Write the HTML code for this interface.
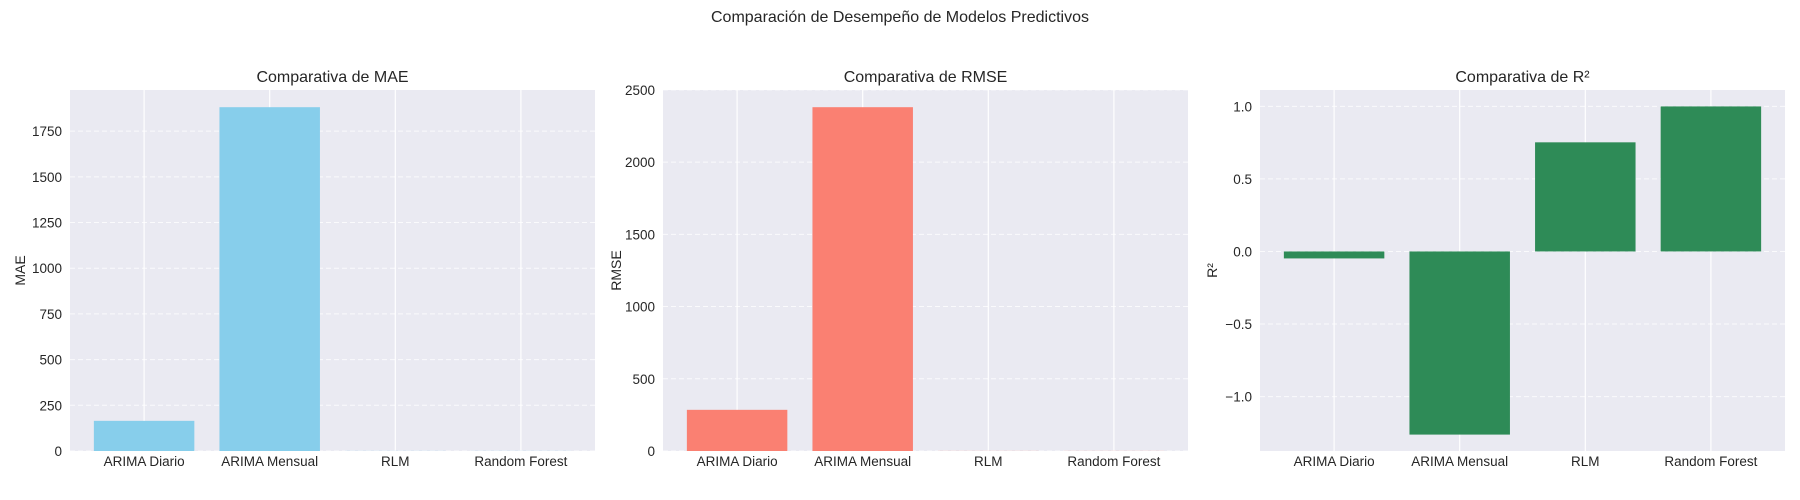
<!DOCTYPE html>
<html><head><meta charset="utf-8"><style>
html,body{margin:0;padding:0;background:#fff;}
svg{display:block;font-family:"Liberation Sans",Arial,sans-serif;}
</style></head><body>
<svg id="fig" width="1800" height="500" viewBox="0 0 1800 500">
<text x="900" y="22" text-anchor="middle" font-size="16" fill="#262626">Comparación de Desempeño de Modelos Predictivos</text>
</svg>
<script>
const categories = ["ARIMA Diario", "ARIMA Mensual", "RLM", "Random Forest"];
const maeValues = [165, 1881, 0.5, 0.5];
const rmseValues = [285, 2380, 0.6, 0.6];
const r2Values = [-0.048, -1.262, 0.752, 0.9995];
const maeTicks = [0, 250, 500, 750, 1000, 1250, 1500, 1750];
const rmseTicks = [0, 500, 1000, 1500, 2000, 2500];
const r2Ticks = [-1.0, -0.5, 0.0, 0.5, 1.0];
const r2TickLabels = ["\u22121.0", "\u22120.5", "0.0", "0.5", "1.0"];

const NS = "http://www.w3.org/2000/svg";
const svg = document.getElementById("fig");
function mk(tag, attrs, parent) {
  const e = document.createElementNS(NS, tag);
  for (const k in attrs) e.setAttribute(k, attrs[k]);
  (parent || svg).appendChild(e);
  return e;
}
const TOP = 90, BOTTOM = 451, W = 525;

function panel(left, values, ticks, tickLabels, color, title, ylabel, key, labelOffset) {
  const vmin = Math.min(0, ...values), vmax = Math.max(0, ...values);
  let y0, y1;
  if (vmin < 0) { const r = vmax - vmin; y0 = vmin - 0.05 * r; y1 = vmax + 0.05 * r; }
  else { y0 = 0; y1 = vmax * 1.05; }
  const yScale = v => BOTTOM - (v - y0) / (y1 - y0) * (BOTTOM - TOP);
  const xl0 = -0.59, xl1 = 3.59;
  const xScale = i => left + (i - xl0) / (xl1 - xl0) * W;
  const g = mk("g", {});
  
  
  const bg = mk("rect", {x: left, y: TOP, width: W, height: BOTTOM - TOP, fill: "#EAEAF2"}, g);
  
  
  categories.forEach((c, i) => {
    const l = mk("line", {x1: xScale(i), x2: xScale(i), y1: TOP, y2: BOTTOM, stroke: "#fff", "stroke-width": 1.2}, g);
    
    
  });
  ticks.forEach((t, i) => {
    const y = yScale(t);
    const l = mk("line", {x1: left, x2: left + W, y1: y, y2: y, stroke: "#fff", "stroke-width": 1, "stroke-dasharray": "5,3", opacity: 0.8}, g);
    
    
    const tx = mk("text", {x: left - 8, y: y + 5, "text-anchor": "end", "font-size": 13.5, fill: "#262626"}, g);
    tx.textContent = tickLabels ? tickLabels[i] : String(t);
    
    
  });
  values.forEach((v, i) => {
    const ya = yScale(Math.max(v, 0)), yb = yScale(Math.min(v, 0));
    const b = mk("rect", {x: xScale(i - 0.4), y: ya, width: xScale(i + 0.4) - xScale(i - 0.4), height: Math.max(0, yb - ya), fill: color}, g);
    
    
  });
  categories.forEach((c, i) => {
    const tx = mk("text", {x: xScale(i), y: 466, "text-anchor": "middle", "font-size": 13.5, fill: "#262626"}, g);
    tx.textContent = c;
    
    
  });
  const tt = mk("text", {x: left + W / 2, y: 82, "text-anchor": "middle", "font-size": 16, fill: "#262626"}, g);
  tt.textContent = title;
  
  
  const lx = left - labelOffset;
  const yl = mk("text", {x: lx, y: (TOP + BOTTOM) / 2, "text-anchor": "middle", "font-size": 14, fill: "#262626", transform: `rotate(-90 ${lx} ${(TOP + BOTTOM) / 2})`}, g);
  yl.textContent = ylabel;
  
  
}
panel(70, maeValues, maeTicks, null, "#87CEEB", "Comparativa de MAE", "MAE", "mae", 45);
panel(663, rmseValues, rmseTicks, null, "#FA8072", "Comparativa de RMSE", "RMSE", "rmse", 42);
panel(1260, r2Values, r2Ticks, r2TickLabels, "#2E8B57", "Comparativa de R\u00B2", "R\u00B2", "r2", 43);
</script>
</body></html>
